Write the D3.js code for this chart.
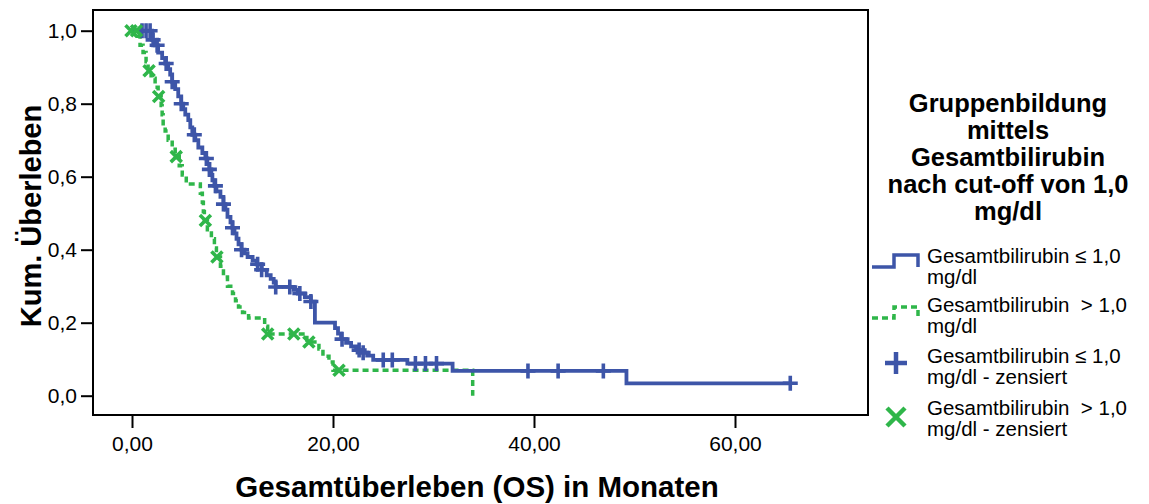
<!DOCTYPE html>
<html>
<head>
<meta charset="utf-8">
<script src="https://cdn.jsdelivr.net/npm/d3@7"></script>
<style>
  html, body { margin: 0; padding: 0; background: #fff; }
  svg { display: block; font-family: "Liberation Sans", Arial, sans-serif; }
</style>
</head>
<body>
<svg id="chart" width="1149" height="504"></svg>
<script>
// Kaplan-Meier estimates: event times (months) and survival after each event
const lowTimes = [2.0, 2.3, 2.6, 3.0, 3.3, 3.6, 3.8, 4.0, 4.3, 4.6, 4.9, 5.1, 5.3, 5.6, 5.8, 6.0, 6.3, 6.6, 7.0, 7.3, 7.5, 7.7, 7.9, 8.0, 8.2, 8.4, 8.8, 9.1, 9.3, 9.5, 9.8, 10.0, 10.2, 10.4, 10.6, 10.9, 11.2, 11.5, 12.0, 12.4, 12.9, 13.4, 13.8, 14.1, 14.3, 16.1, 16.5, 17.2, 17.8, 18.2, 20.2, 20.5, 20.8, 21.3, 21.8, 22.3, 22.8, 23.4, 24.0, 27.4, 31.9, 49.2];
const lowSurv  = [0.975, 0.96, 0.94, 0.925, 0.91, 0.895, 0.88, 0.86, 0.84, 0.82, 0.80, 0.785, 0.77, 0.755, 0.735, 0.715, 0.70, 0.68, 0.665, 0.65, 0.635, 0.62, 0.605, 0.59, 0.575, 0.56, 0.545, 0.525, 0.51, 0.49, 0.475, 0.46, 0.445, 0.43, 0.415, 0.40, 0.39, 0.38, 0.37, 0.36, 0.345, 0.33, 0.32, 0.31, 0.298, 0.29, 0.28, 0.27, 0.258, 0.20, 0.185, 0.17, 0.155, 0.145, 0.135, 0.125, 0.118, 0.11, 0.098, 0.088, 0.068, 0.034];
const lowEnd = 65.5;
const lowCensored = [1.0, 1.4, 1.8, 2.1, 2.5, 3.4, 4.0, 4.9, 6.2, 7.4, 7.7, 8.3, 9.1, 10.0, 10.9, 12.5, 12.9, 14.3, 15.7, 16.7, 17.8, 20.9, 22.6, 23.0, 25.0, 25.9, 28.2, 29.2, 30.3, 39.4, 42.4, 46.9, 65.5];

const highTimes = [0.5, 0.8, 1.1, 1.4, 1.6, 1.9, 2.3, 2.6, 2.9, 3.0, 3.1, 3.3, 3.6, 4.0, 4.3, 4.7, 5.0, 5.4, 6.8, 7.0, 7.1, 7.2, 7.5, 7.9, 8.2, 8.4, 8.8, 9.1, 9.5, 10.0, 10.3, 10.6, 11.0, 11.6, 13.2, 13.5, 17.4, 18.6, 19.0, 19.6, 20.0, 33.9];
const highSurv  = [0.985, 0.96, 0.94, 0.915, 0.89, 0.87, 0.845, 0.82, 0.795, 0.77, 0.745, 0.725, 0.70, 0.675, 0.655, 0.63, 0.605, 0.58, 0.555, 0.53, 0.505, 0.48, 0.455, 0.43, 0.405, 0.38, 0.355, 0.325, 0.30, 0.28, 0.26, 0.243, 0.228, 0.213, 0.19, 0.169, 0.147, 0.128, 0.108, 0.092, 0.07, 0.0];
const highEnd = 33.9;
const highCensored = [-0.1, 0.45, 1.7, 2.65, 4.4, 7.3, 8.45, 13.5, 16.1, 17.6, 20.6];

const xTicks = [0, 20, 40, 60];
const xTickLabels = ["0,00", "20,00", "40,00", "60,00"];
const yTicks = [0, 0.2, 0.4, 0.6, 0.8, 1.0];
const yTickLabels = ["0,0", "0,2", "0,4", "0,6", "0,8", "1,0"];

const legendTitle = ["Gruppenbildung", "mittels", "Gesamtbilirubin", "nach cut-off von 1,0", "mg/dl"];
const legendItems = [
  ["Gesamtbilirubin \u2264 1,0", "mg/dl"],
  ["Gesamtbilirubin \u00A0> 1,0", "mg/dl"],
  ["Gesamtbilirubin \u2264 1,0", "mg/dl - zensiert"],
  ["Gesamtbilirubin \u00A0> 1,0", "mg/dl - zensiert"]
];

const BLUE = "#3d55a8";
const GREEN = "#2fb64a";

const svg = d3.select("#chart");
const frame = { left: 93, right: 868, top: 10, bottom: 415 };

const x = d3.scaleLinear().domain([0, 60]).range([132, 735]);
const y = d3.scaleLinear().domain([0, 1]).range([395.7, 30.7]);

// plot frame
svg.append("rect")
  .attr("x", frame.left).attr("y", frame.top)
  .attr("width", frame.right - frame.left).attr("height", frame.bottom - frame.top)
  .attr("fill", "none").attr("stroke", "#000").attr("stroke-width", 2);

// y axis
const yAxis = d3.axisLeft(y).tickValues(yTicks).tickSize(12).tickPadding(4)
  .tickFormat((d, i) => yTickLabels[i]);
const gy = svg.append("g").attr("transform", `translate(${frame.left},0)`).call(yAxis);
gy.select(".domain").remove();
gy.selectAll(".tick line").attr("stroke", "#000").attr("stroke-width", 2);
gy.selectAll(".tick text").attr("font-size", 21).attr("fill", "#000")
  .attr("font-family", "'Liberation Sans', Arial, sans-serif");

// x axis
const xAxis = d3.axisBottom(x).tickValues(xTicks).tickSize(13).tickPadding(8)
  .tickFormat((d, i) => xTickLabels[i]);
const gx = svg.append("g").attr("transform", `translate(0,${frame.bottom})`).call(xAxis);
gx.select(".domain").remove();
gx.selectAll(".tick line").attr("stroke", "#000").attr("stroke-width", 2);
gx.selectAll(".tick text").attr("font-size", 21).attr("fill", "#000")
  .attr("font-family", "'Liberation Sans', Arial, sans-serif");

// axis titles
svg.append("text")
  .attr("transform", "translate(41,216) rotate(-90)")
  .attr("text-anchor", "middle").attr("font-size", 29).attr("font-weight", "bold")
  .text("Kum. \u00DCberleben");
svg.append("text")
  .attr("x", 477).attr("y", 497)
  .attr("text-anchor", "middle").attr("font-size", 29.5).attr("font-weight", "bold")
  .text("Gesamt\u00FCberleben (OS) in Monaten");

// survival step functions
function stepPoints(times, surv, end) {
  const pts = [[0, 1]];
  times.forEach((t, i) => pts.push([t, surv[i]]));
  pts.push([end, surv[surv.length - 1]]);
  return pts;
}
function survAt(times, surv, t) {
  let s = 1;
  times.forEach((ti, i) => { if (ti <= t) s = surv[i]; });
  return s;
}
const line = d3.line().x(d => x(d[0])).y(d => y(d[1])).curve(d3.curveStepAfter);

const plot = svg.append("g");
plot.append("path")
  .attr("d", line(stepPoints(highTimes, highSurv, highEnd)))
  .attr("fill", "none").attr("stroke", GREEN).attr("stroke-width", 3.5)
  .attr("stroke-dasharray", "6,4");
plot.append("path")
  .attr("d", line(stepPoints(lowTimes, lowSurv, lowEnd)))
  .attr("fill", "none").attr("stroke", BLUE).attr("stroke-width", 3.8);

// censoring marks
function plusPath(cx, cy, r) {
  return `M${cx - r},${cy}H${cx + r}M${cx},${cy - r}V${cy + r}`;
}
function crossPath(cx, cy, r) {
  return `M${cx - r},${cy - r}L${cx + r},${cy + r}M${cx - r},${cy + r}L${cx + r},${cy - r}`;
}
plot.selectAll(".cens-low").data(lowCensored).join("path")
  .attr("class", "cens-low")
  .attr("d", t => plusPath(x(t), y(survAt(lowTimes, lowSurv, t)), 7.5))
  .attr("stroke", BLUE).attr("stroke-width", 3.6).attr("fill", "none");
plot.selectAll(".cens-high").data(highCensored).join("path")
  .attr("class", "cens-high")
  .attr("d", t => crossPath(x(t), y(survAt(highTimes, highSurv, t)), 5.5))
  .attr("stroke", GREEN).attr("stroke-width", 3.6).attr("fill", "none");

// legend
const legend = svg.append("g");
legend.selectAll(".lt").data(legendTitle).join("text")
  .attr("class", "lt")
  .attr("x", 1008).attr("y", (d, i) => 112 + i * 27)
  .attr("text-anchor", "middle").attr("font-size", 25.5).attr("font-weight", "bold")
  .text(d => d);

const itemBase = [262.5, 311.5, 362.5, 414.5];
legendItems.forEach((lines, i) => {
  lines.forEach((txt, j) => {
    legend.append("text")
      .attr("x", 927).attr("y", itemBase[i] + j * 21)
      .attr("font-size", 20.5).attr("fill", "#000")
      .text(txt);
  });
});
// legend symbols
legend.append("path")
  .attr("d", "M872,267H894V255H918V267")
  .attr("fill", "none").attr("stroke", BLUE).attr("stroke-width", 3.5);
legend.append("path")
  .attr("d", "M872,318H894V307H918V318")
  .attr("fill", "none").attr("stroke", GREEN).attr("stroke-width", 3.5)
  .attr("stroke-dasharray", "6,4");
legend.append("path")
  .attr("d", plusPath(896, 363, 11))
  .attr("stroke", BLUE).attr("stroke-width", 4.5).attr("fill", "none");
legend.append("path")
  .attr("d", crossPath(896, 417, 9))
  .attr("stroke", GREEN).attr("stroke-width", 4.5).attr("fill", "none");
</script>
</body>
</html>
